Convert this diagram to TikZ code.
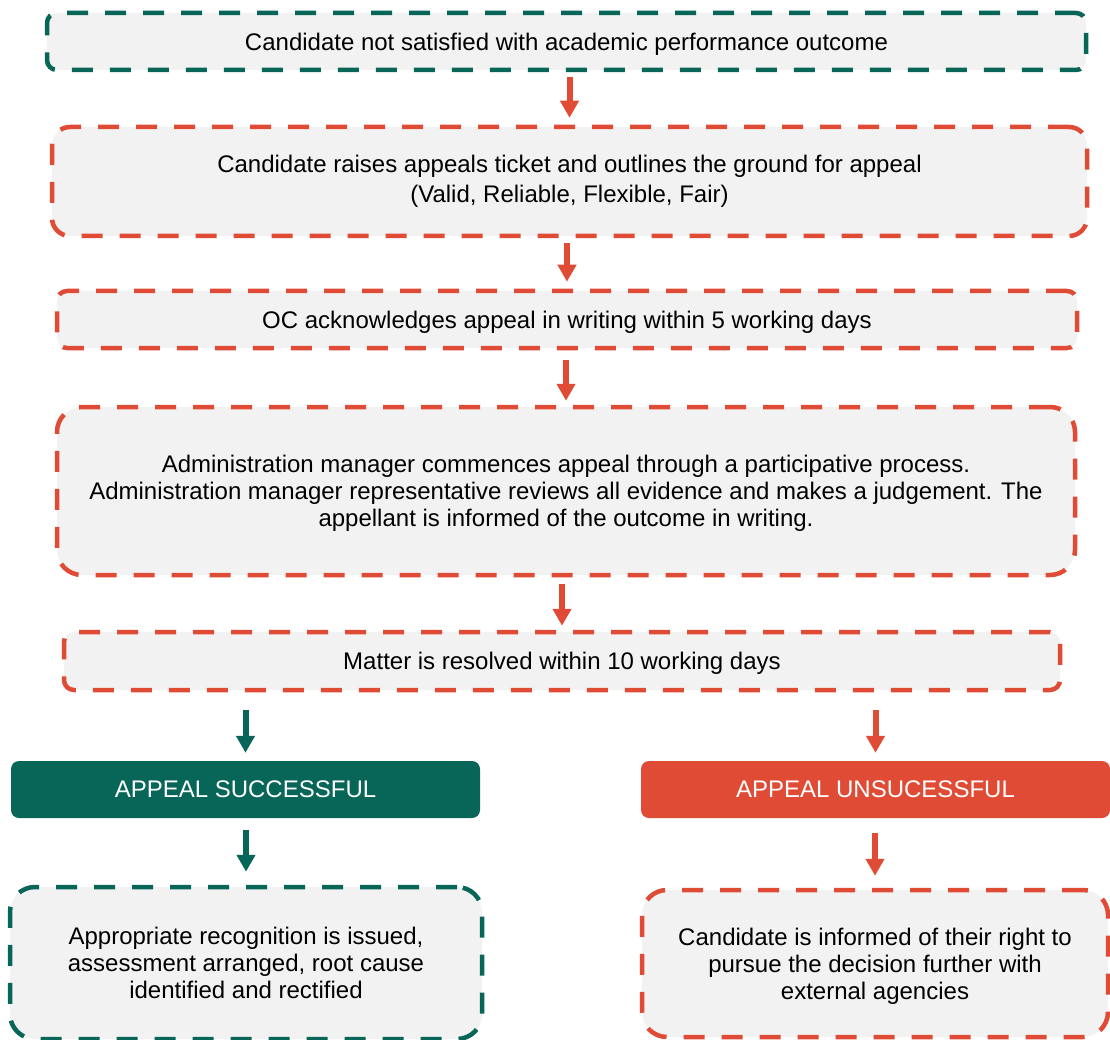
\documentclass[tikz,border=0pt]{standalone}
\usepackage{fontspec}
\setmainfont{Liberation Sans}
\usetikzlibrary{arrows.meta}
\definecolor{fgreen}{HTML}{076658}
\definecolor{fred}{HTML}{E04B36}
\definecolor{fgrey}{HTML}{F2F2F2}
\begin{document}
\begin{tikzpicture}[x=1pt,y=-1pt,
  every node/.style={font=\fontsize{24}{27}\selectfont, align=center, inner sep=0pt, text depth=0pt},
  dashbox/.style={draw, fill=fgrey, line width=4.5pt, dash pattern=on 21pt off 17pt},
  greenbox/.style={dashbox, draw=fgreen},
  redbox/.style={dashbox, draw=fred},
  solidbox/.style={fill=#1, text=white, rounded corners=8pt, minimum width=469pt, minimum height=57pt},
  arr/.style={draw=#1, line width=6pt, -{Triangle[width=18pt,length=17pt,fill=#1]}}
]
\useasboundingbox (0,0) rectangle (1110,1040);

\node[greenbox, rounded corners=10pt, minimum width=1039pt, minimum height=57pt]
  (b1) at (566.5,41.5) {Candidate not satisfied with academic performance outcome};
\node[redbox, rounded corners=18pt, minimum width=1035pt, minimum height=109pt, text depth=6pt]
  (b2) at (569.5,181.5) {Candidate raises appeals ticket and outlines the ground for appeal\\[3pt](Valid, Reliable, Flexible, Fair)};
\node[redbox, rounded corners=10pt, minimum width=1020pt, minimum height=57pt]
  (b3) at (567,319.5) {OC acknowledges appeal in writing within 5 working days};
\node[redbox, rounded corners=25pt, minimum width=1018pt, minimum height=168pt]
  (b4) at (566,491) {Administration manager commences appeal through a participative process.\\
  Administration manager representative reviews all evidence and makes a judgement. The\\
  appellant is informed of the outcome in writing.};
\node[redbox, rounded corners=10pt, minimum width=996pt, minimum height=58pt]
  (b5) at (562,661) {Matter is resolved within 10 working days};

\node[solidbox=fgreen] (ok) at (245.5,789.5) {APPEAL SUCCESSFUL};
\node[solidbox=fred] (no) at (875.5,789.5) {APPEAL UNSUCESSFUL};

\node[greenbox, rounded corners=25pt, minimum width=472pt, minimum height=152pt]
  (okres) at (246,963) {Appropriate recognition is issued,\\assessment arranged, root cause\\identified and rectified};
\node[redbox, rounded corners=25pt, minimum width=466pt, minimum height=147pt]
  (nores) at (875,963.5) {Candidate is informed of their right to\\pursue the decision further with\\external agencies};

% main chain
\draw[arr=fred, shorten <=5pt, shorten >=7pt] (b1.south -| b2.north) -- (b2.north);
\draw[arr=fred, shorten <=5pt, shorten >=7pt] (b2.south -| b3.north) -- (b3.north);
\draw[arr=fred, shorten <=10pt, shorten >=4pt] (b3.south -| b4.north) -- (b4.north);
\draw[arr=fred, shorten <=7pt, shorten >=4pt] (b4.south -| b5.north) -- (b5.north);

% branches
\draw[arr=fgreen, shorten <=18pt, shorten >=8pt] (ok.north |- b5.south) -- (ok.north);
\draw[arr=fred, shorten <=18pt, shorten >=8pt] (no.north |- b5.south) -- (no.north);
\draw[arr=fgreen, shorten <=12pt, shorten >=13pt] (ok.south -| okres.north) -- (okres.north);
\draw[arr=fred, shorten <=15pt, shorten >=12pt] (no.south -| nores.north) -- (nores.north);
\end{tikzpicture}
\end{document}
